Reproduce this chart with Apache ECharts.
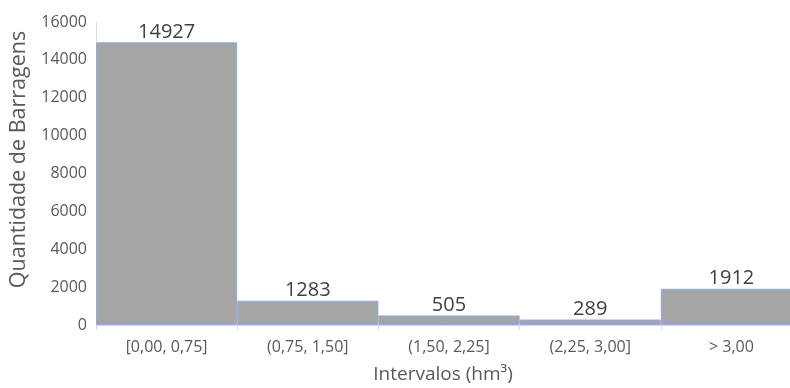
<!DOCTYPE html>
<html><head><meta charset="utf-8">
<script src="https://cdn.jsdelivr.net/npm/echarts@6/dist/echarts.min.js"></script>
<style>html,body{margin:0;padding:0;background:#fff}#c{width:790px;height:388px}</style>
</head><body><div id="c"></div>
<script>
const categories = ['[0,00, 0,75]', '(0,75, 1,50]', '(1,50, 2,25]', '(2,25, 3,00]', '> 3,00'];
const values = [14927, 1283, 505, 289, 1912];
const yTicks = [0, 2000, 4000, 6000, 8000, 10000, 12000, 14000, 16000];

const chart = echarts.init(document.getElementById('c'), null, {renderer: 'canvas'});
const font = 'Open Sans, Noto Sans, sans-serif';
chart.setOption({
  animation: false,
  backgroundColor: '#fff',
  grid: {left: 96, top: 22, width: 706, height: 303, containLabel: false, outerBoundsMode: 'none'},
  xAxis: {
    type: 'category', data: categories,
    name: 'Intervalos (hm³)', nameLocation: 'middle', nameGap: 40,
    nameTextStyle: {fontFamily: font, fontSize: 19, color: '#595959', padding: [0, 12, 0, 0]},
    axisLine: {lineStyle: {color: '#d9d9d9', width: 1}},
    axisTick: {show: true, length: 5, lineStyle: {color: '#d9d9d9'}},
    axisLabel: {fontFamily: font, fontSize: 16, color: '#595959', margin: 14}
  },
  yAxis: {
    type: 'value', min: yTicks[0], max: yTicks[yTicks.length - 1], interval: 2000,
    name: 'Quantidade de Barragens', nameLocation: 'middle', nameGap: 64,
    nameTextStyle: {fontFamily: font, fontSize: 21.5, color: '#595959', padding: [0, 0, 0, 28]},
    axisLine: {show: true, lineStyle: {color: '#d9d9d9', width: 1}},
    axisTick: {show: false},
    splitLine: {show: false},
    axisLabel: {fontFamily: font, fontSize: 16, color: '#595959', margin: 9,
      formatter: v => String(v)}
  },
  series: [{
    type: 'bar', data: values, barWidth: '100%', barCategoryGap: '0%',
    itemStyle: {color: '#a5a5a5', borderColor: '#8faadc', borderWidth: 1},
    label: {show: true, position: 'top', distance: 0, fontFamily: font, fontSize: 20, color: '#404040'}
  }]
});
</script></body></html>
